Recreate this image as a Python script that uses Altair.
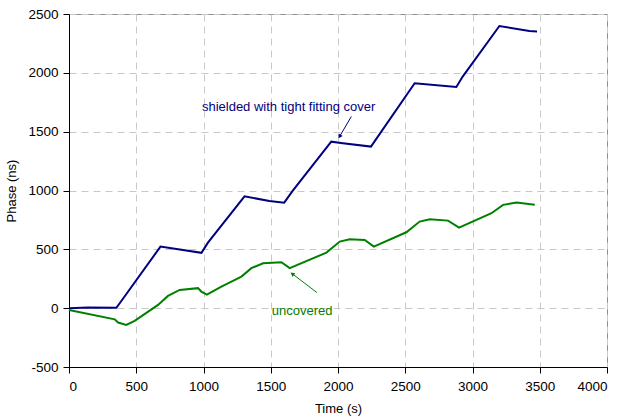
import altair as alt
import pandas as pd

# Phase drift over time for the two oscillator set-ups
time_shielded = [0, 140, 352, 377, 680, 985, 1033, 1305, 1490, 1600, 1664, 1950,
                 2036, 2245, 2570, 2880, 2927, 3200, 3423, 3480]
phase_shielded = [0, 5, 3, 42, 523, 470, 557, 950, 911, 897, 999, 1415,
                  1402, 1373, 1912, 1880, 1968, 2398, 2356, 2352]

time_uncovered = [0, 340, 365, 426, 488, 662, 736, 823, 959, 984, 1025, 1133,
                  1282, 1356, 1443, 1579, 1641, 1914, 2013, 2087, 2199, 2266,
                  2508, 2607, 2682, 2818, 2900, 3141, 3227, 3327, 3463]
phase_uncovered = [-15, -95, -122, -142, -108, 28, 104, 155, 170, 141, 115, 184,
                   268, 340, 382, 391, 340, 472, 566, 586, 580, 523,
                   645, 736, 756, 744, 685, 807, 878, 897, 878]

x_ticks = [0, 500, 1000, 1500, 2000, 2500, 3000, 3500, 4000]
y_ticks = [-500, 0, 500, 1000, 1500, 2000, 2500]

NAVY = "#000080"
GREEN = "#008000"
FONT = "Liberation Sans"

df_s = pd.DataFrame({"t": time_shielded, "p": phase_shielded})
df_u = pd.DataFrame({"t": time_uncovered, "p": phase_uncovered})

x_scale = alt.Scale(domain=[0, 4000], nice=False, zero=False)
y_scale = alt.Scale(domain=[-500, 2500], nice=False, zero=False)

# plain hyphen for negative tick labels
plain_label = "'' + datum.value"

x_enc = alt.X("t:Q", scale=x_scale, title="Time (s)",
              axis=alt.Axis(values=x_ticks, labelExpr=plain_label))
y_enc = alt.Y("p:Q", scale=y_scale, title="Phase (ns)",
              axis=alt.Axis(values=y_ticks, labelExpr=plain_label))

shielded = alt.Chart(df_s).mark_line(color=NAVY, strokeWidth=2).encode(x=x_enc, y=y_enc)
uncovered = alt.Chart(df_u).mark_line(color=GREEN, strokeWidth=2).encode(x=x_enc, y=y_enc)

# annotation labels and their pointer arrows
labels = pd.DataFrame({
    "t": [1633, 1734],
    "p": [1712, -20],
    "txt": ["shielded with tight fitting cover", "uncovered"],
    "col": [NAVY, GREEN],
})
text = alt.Chart(labels).mark_text(font=FONT, fontSize=13).encode(
    x=alt.X("t:Q", scale=x_scale),
    y=alt.Y("p:Q", scale=y_scale),
    text="txt:N",
    color=alt.Color("col:N", scale=None),
)

arrows = pd.DataFrame({
    "t": [2099, 1843], "p": [1629, 133],
    "t2": [2012, 1660], "p2": [1459, 292],
    "col": [NAVY, GREEN], "ang": [210, 307],
})
shafts = alt.Chart(arrows).mark_rule(strokeWidth=1).encode(
    x=alt.X("t:Q", scale=x_scale), y=alt.Y("p:Q", scale=y_scale),
    x2="t2:Q", y2="p2:Q",
    color=alt.Color("col:N", scale=None),
)
heads = alt.Chart(arrows).mark_point(shape="triangle-up", filled=True, size=22, opacity=1).encode(
    x=alt.X("t2:Q", scale=x_scale), y=alt.Y("p2:Q", scale=y_scale),
    angle=alt.Angle("ang:Q", scale=None),
    color=alt.Color("col:N", scale=None),
)

chart = (
    alt.layer(shielded, uncovered, shafts, heads, text)
    .properties(
        width=538, height=353,
        autosize=alt.AutoSizeParams(type="none"),
        padding={"left": 69, "top": 14, "right": 17, "bottom": 52},
        background="white",
    )
    .configure_view(stroke="#8c8c8c", strokeWidth=1)
    .configure_axis(
        domainColor="black", domainWidth=1,
        tickColor="black", tickSize=6,
        labelFont=FONT, labelFontSize=13.5, labelColor="black",
        titleFont=FONT, titleFontSize=13, titleFontWeight="normal", titleColor="black",
        gridColor="#c8c8c8", gridDash=[7, 5], gridWidth=1,
    )
    .configure_axisX(labelPadding=6, titlePadding=10)
    .configure_axisY(labelPadding=5, titlePadding=9)
)

chart.save("out.html", embed_options={"renderer": "svg", "actions": False})
